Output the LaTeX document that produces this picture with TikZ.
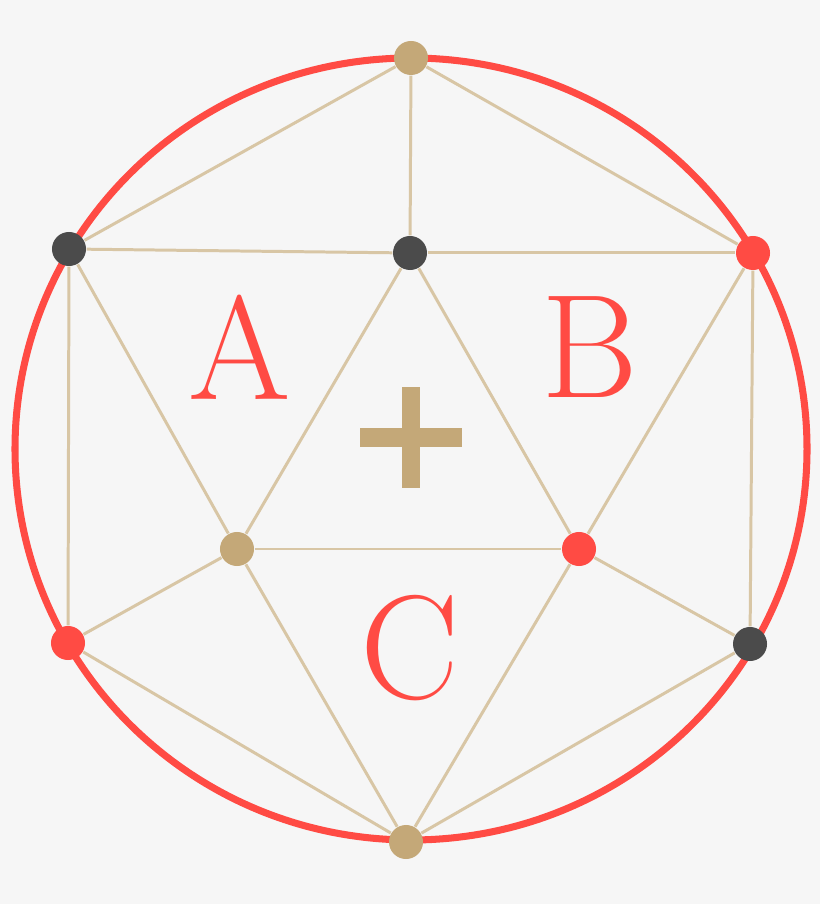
\documentclass[tikz,border=0pt]{standalone}
\usepackage{tikz}
\usetikzlibrary{calc,shapes,positioning}
\definecolor{bgray}{HTML}{F6F6F6}
\definecolor{ring}{HTML}{FF4B44}
\definecolor{tanline}{HTML}{D8C6A5}
\definecolor{tandot}{HTML}{C4A878}
\definecolor{darkdot}{HTML}{4B4B4B}

\begin{document}
\begin{tikzpicture}[x=0.01cm,y=-0.01cm]
        \tikzstyle{pnode} = [circle, inner sep = 0pt, minimum size = 0.34cm]
        \tikzstyle{edge} = [draw=tanline, line width = 0.85pt]
        \tikzstyle{letter} = [text=ring, inner sep = 0pt, font=\fontsize{42}{42}\selectfont]
        \fill[bgray] (0,0) rectangle (820,904);
        \useasboundingbox (0,0) rectangle (820,904);
        \draw[ring, line width = 2pt] (411,449) ellipse [x radius=396, y radius=391];

        \node[pnode, fill=tandot] (p1) at (411,58) {};
        \node[pnode, fill=darkdot] (p2) at (69,249) {};
        \node[pnode, fill=darkdot] (p3) at (410,253) {};
        \node[pnode, fill=ring] (p4) at (753,253) {};
        \node[pnode, fill=tandot] (p5) at (237,549) {};
        \node[pnode, fill=ring] (p6) at (579,549) {};
        \node[pnode, fill=ring] (p7) at (68,643) {};
        \node[pnode, fill=darkdot] (p8) at (750,644) {};
        \node[pnode, fill=tandot] (p9) at (406,842) {};

        \draw[edge] (p1) to (p2);
        \draw[edge] (p1) to (p3);
        \draw[edge] (p1) to (p4);
        \draw[edge] (p2) to (p3);
        \draw[edge] (p3) to (p4);
        \draw[edge] (p2) to (p7);
        \draw[edge] (p4) to (p8);
        \draw[edge] (p2) to (p5);
        \draw[edge] (p3) to (p5);
        \draw[edge] (p3) to (p6);
        \draw[edge] (p4) to (p6);
        \draw[edge] (p5) to (p6);
        \draw[edge] (p5) to (p7);
        \draw[edge] (p5) to (p9);
        \draw[edge] (p6) to (p8);
        \draw[edge] (p6) to (p9);
        \draw[edge] (p7) to (p9);
        \draw[edge] (p8) to (p9);

        \node[letter] (la) at (240,347) {A};
        \node[letter] (lb) at (590,347) {B};
        \node[letter] (lc) at (410,648) {C};

        % plus sign
        \fill[tandot] (360,428) rectangle (462,447);
        \fill[tandot] (402,387) rectangle (420,488);
      \end{tikzpicture}
\end{document}
